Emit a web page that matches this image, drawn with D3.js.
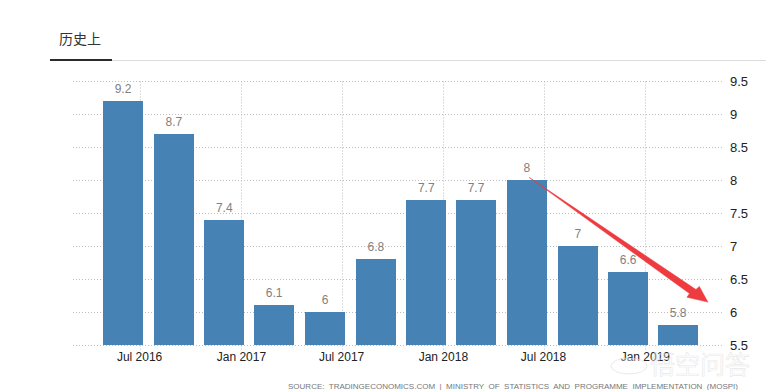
<!DOCTYPE html>
<html><head><meta charset="utf-8">
<script src="https://cdnjs.cloudflare.com/ajax/libs/d3/7.8.5/d3.min.js"></script>
<style>html,body{margin:0;padding:0;background:#fff;overflow:hidden}svg{display:block}.val{opacity:.99}</style>
</head><body><svg id="c" width="766" height="390"></svg>
<script>
const dates = ["2016-06-01","2016-09-01","2016-12-01","2017-03-01","2017-06-01","2017-09-01","2017-12-01","2018-03-01","2018-06-01","2018-09-01","2018-12-01","2019-03-01"];
const values = [9.2,8.7,7.4,6.1,6,6.8,7.7,7.7,8,7,6.6,5.8];
const xTickDates = ["2016-07-01","2017-01-01","2017-07-01","2018-01-01","2018-07-01","2019-01-01"];
const yTicks = [5.5,6,6.5,7,7.5,8,8.5,9,9.5];
const arrowFrom = {date:"2018-06-05", value:8.04};
const arrowTo = {date:"2019-04-24", value:6.15};
const tabLabel = "历史上";
const sourceText = "SOURCE:  TRADINGECONOMICS.COM  |  MINISTRY  OF  STATISTICS  AND  PROGRAMME  IMPLEMENTATION  (MOSPI)";
const watermark = "悟空问答";

const P = d3.timeParse("%Y-%m-%d");
const svg = d3.select("#c");
const x = d3.scaleTime().domain([P(dates[0]),P(dates[11])]).range([123,678]);
const y = d3.scaleLinear().domain([5.5,9.5]).range([345,81]);
const FONT = "'Liberation Sans',Arial,sans-serif";

// tab header
svg.append("text").attr("x",59).attr("y",44).attr("font-family","'Noto Sans CJK SC'").attr("font-size",14).attr("fill","#333").text(tabLabel);
svg.append("rect").attr("x",50).attr("y",60).attr("width",716).attr("height",1).attr("fill","#ddd");
svg.append("rect").attr("x",50).attr("y",59).attr("width",62).attr("height",2).attr("fill","#2b2b2b");

// grid
const grid = svg.append("g").attr("stroke","#bdbdbd").attr("stroke-width",1).attr("stroke-dasharray","1,2").attr("fill","none");
grid.selectAll(".h").data(yTicks).join("line").attr("x1",73).attr("x2",722).attr("y1",d=>y(d)+.5).attr("y2",d=>y(d)+.5);
grid.selectAll(".v").data(xTickDates).join("line")
  .attr("x1",d=>Math.round(x(P(d)))+.5).attr("x2",d=>Math.round(x(P(d)))+.5).attr("y1",81.5).attr("y2",350);

// bars
const barW = 40;
svg.selectAll(".bar").data(values).join("rect").attr("class","bar")
  .attr("x",(d,i)=>Math.round(x(P(dates[i]))-barW/2)).attr("width",barW)
  .attr("y",d=>Math.round(y(d))).attr("height",d=>Math.round(y(5.5))-Math.round(y(d)))
  .attr("fill","#4682b4");
svg.selectAll(".val").data(values).join("text").attr("class","val")
  .attr("x",(d,i)=>x(P(dates[i]))).attr("y",d=>y(d)-8).attr("text-anchor","middle")
  .attr("font-family",FONT).attr("font-size",12).attr("fill","#808080").text(d=>d);

// axes
const xf = d3.timeFormat("%b %Y");
svg.selectAll(".xl").data(xTickDates).join("text").attr("class","xl")
  .attr("x",d=>x(P(d))).attr("y",361).attr("text-anchor","middle")
  .attr("font-family",FONT).attr("font-size",12).attr("fill","#222").text(d=>xf(P(d)));
svg.selectAll(".yl").data(yTicks).join("text").attr("class","yl")
  .attr("x",730).attr("y",d=>y(d)+4.5).attr("font-family",FONT).attr("font-size",13).attr("fill","#222").text(d=>d);

// source
svg.append("text").attr("x",288).attr("y",389).attr("font-family",FONT).attr("font-size",8)
  .attr("textLength",450).attr("lengthAdjust","spacing")
  .style("white-space","pre").attr("fill","#777").text(sourceText);

// red arrow annotation
const ax0 = x(P(arrowFrom.date)), ay0 = y(arrowFrom.value), ax1 = x(P(arrowTo.date)), ay1 = y(arrowTo.value);
const L = Math.hypot(ax1-ax0,ay1-ay0), ux=(ax1-ax0)/L, uy=(ay1-ay0)/L, nx=-uy, ny=ux;
const pt=(a,p)=>[ax1+ux*a+nx*p, ay1+uy*a+ny*p];
const arrow=[[ax0,ay0],pt(-17,-3.5),pt(-16,-8),[ax1,ay1],pt(-20,8),pt(-20,3.5)];
svg.append("path").attr("d",d3.line()(arrow)+"Z").attr("fill","#ee3b3f").attr("stroke","#ee3b3f").attr("stroke-width",.5);

// watermark
const wm = svg.append("g").attr("opacity",.6);
wm.append("ellipse").attr("cx",629).attr("cy",366).attr("rx",18).attr("ry",8).attr("fill","#fff").attr("fill-opacity",.6).attr("stroke","#ddd");
wm.append("text").attr("x",650).attr("y",374).attr("font-family","'Noto Sans CJK SC'").attr("font-size",25).attr("fill","#fff").attr("fill-opacity",.6).attr("stroke","#d9d9d9").attr("stroke-width",.6).text(watermark);
</script></body></html>
